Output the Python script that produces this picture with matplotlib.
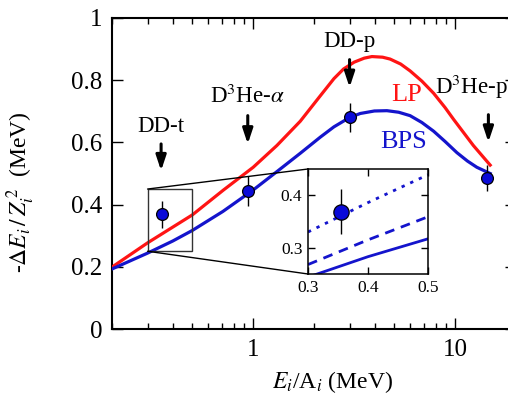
import matplotlib
matplotlib.use("Agg")
import matplotlib.pyplot as plt
from matplotlib.patches import Rectangle, ConnectionPatch
from matplotlib.ticker import FixedLocator, NullFormatter, LogLocator, FixedFormatter

plt.rcParams['font.family'] = ['Liberation Serif', 'DejaVu Serif']
plt.rcParams['mathtext.fontset'] = 'stix'

# ---- data ----
lp_x = [0.2, 0.3, 0.5, 0.713, 1.0, 1.31, 1.71, 2.15, 2.51, 2.80, 3.16, 3.55, 3.87, 4.37,
        4.76, 5.37, 5.98, 6.84, 7.82, 8.91, 9.82, 12.3, 14.9]
lp_y = [0.199, 0.277, 0.367, 0.447, 0.520, 0.590, 0.668, 0.750, 0.805, 0.836, 0.858, 0.871,
        0.876, 0.874, 0.868, 0.852, 0.830, 0.797, 0.758, 0.712, 0.674, 0.590, 0.527]

bps_x = [0.2, 0.3, 0.4, 0.5, 0.708, 1.0, 1.31, 1.71, 2.15, 2.51, 3.0, 3.39, 3.98, 4.59,
         5.25, 5.98, 6.84, 7.82, 8.91, 10.2, 11.5, 12.8, 14.9]
bps_y = [0.193, 0.244, 0.283, 0.317, 0.378, 0.447, 0.506, 0.565, 0.617, 0.650, 0.680, 0.693,
         0.701, 0.702, 0.697, 0.686, 0.664, 0.636, 0.603, 0.567, 0.540, 0.520, 0.500]

dot_x = [0.3, 0.4, 0.5]
dot_y = [0.330, 0.386, 0.439]
dash_x = [0.3, 0.4, 0.5]
dash_y = [0.268, 0.315, 0.359]

exp_labels = ["DD-t", r"D$^{3}$He-$\alpha$", "DD-p", r"D$^{3}$He-p"]
exp_x = [0.355, 0.94, 3.0, 14.4]
exp_y = [0.369, 0.444, 0.681, 0.485]
exp_err = [0.043, 0.047, 0.046, 0.042]

arrow_x = [0.35, 0.94, 3.0, 14.6]
arrow_top = [0.604, 0.695, 0.875, 0.698]
arrow_tip = [0.500, 0.586, 0.768, 0.592]

yticks = [0, 0.2, 0.4, 0.6, 0.8, 1]
ytick_labels = ["0", "0.2", "0.4", "0.6", "0.8", "1"]
xticks = [1, 10]
xtick_labels = ["1", "10"]

RED = '#ff1414'
BLUE = '#1414cc'
MBLUE = '#0a0ad8'

W, H = 508, 403
fig = plt.figure(figsize=(W/100, H/100), dpi=100)
ax = fig.add_axes([112/W, 74/H, 404/W, 311/H])

ax.plot(lp_x, lp_y, color=RED, lw=2.3, zorder=3)
ax.plot(bps_x, bps_y, color=BLUE, lw=2.3, zorder=3)
ax.errorbar(exp_x, exp_y, yerr=exp_err, fmt='o', ms=8.5, mfc=MBLUE, mec='k', mew=0.9,
            ecolor='k', elinewidth=1.0, capsize=0, zorder=5)

ax.set_xscale('log')
ax.set_xlim(0.2, 20)
ax.set_ylim(0, 1)
ax.xaxis.set_major_locator(FixedLocator(xticks))
ax.xaxis.set_major_formatter(FixedFormatter(xtick_labels))
ax.xaxis.set_minor_locator(LogLocator(base=10, subs=[2, 3, 4, 5, 6, 7, 8, 9]))
ax.xaxis.set_minor_formatter(NullFormatter())
ax.yaxis.set_major_locator(FixedLocator(yticks))
ax.yaxis.set_major_formatter(FixedFormatter(ytick_labels))
ax.tick_params(which='both', direction='in', top=True, right=True, labelsize=18, width=1.0)
ax.tick_params(which='major', length=8, pad=7)
ax.tick_params(which='minor', length=4.3)
for s in ax.spines.values():
    s.set_linewidth(1.5)

ax.set_xlabel(r"$E_{i}$/A$_{i}$ (MeV)", fontsize=17)
ax.set_ylabel(r"-$\mathit{\Delta E_{i}}\,/\,Z_{i}^{\,2}$  (MeV)", fontsize=17)
ax.xaxis.set_label_coords(0.545, -0.13)
ax.yaxis.set_label_coords(-0.185, 0.44)

# arrows and labels
for i in range(len(arrow_x)):
    ax.annotate('', xy=(arrow_x[i], arrow_tip[i]), xytext=(arrow_x[i], arrow_top[i]),
                arrowprops=dict(arrowstyle='-|>,head_length=0.9,head_width=0.3', color='k', lw=2.2),
                zorder=6)
ax.text(arrow_x[0], 0.650, exp_labels[0], ha='center', va='center', fontsize=16.5)
ax.text(arrow_x[1], 0.747, exp_labels[1], ha='center', va='center', fontsize=16.5)
ax.text(arrow_x[2], 0.923, exp_labels[2], ha='center', va='center', fontsize=16.5)
ax.text(7.9, 0.778, exp_labels[3], ha='left', va='center', fontsize=16.5)

ax.text(5.72, 0.752, "LP", color=RED, ha='center', va='center', fontsize=19)
ax.text(5.53, 0.601, "BPS", color=BLUE, ha='center', va='center', fontsize=19)

# zoom rectangle
ax.add_patch(Rectangle((0.3, 0.25), 0.2, 0.2, fill=False, ec='#333333', lw=1.0, zorder=4))

# inset
ins = fig.add_axes([308/W, (H-274)/H, 120/W, 105/H])
ins.plot(bps_x, bps_y, color=BLUE, lw=2.0)
ins.plot(dash_x, dash_y, color=BLUE, lw=2.0, ls=(0, (3.5, 2.5)))
ins.plot(dot_x, dot_y, color=BLUE, lw=2.0, ls=(0, (1.2, 2.2)))
ins.errorbar(exp_x, exp_y, yerr=exp_err, fmt='o', ms=11, mfc=MBLUE, mec='k', mew=0.9,
             ecolor='k', elinewidth=1.0, capsize=0, zorder=5)
ins.set_xlim(0.3, 0.5)
ins.set_ylim(0.25, 0.45)
ins.set_xticks([0.3, 0.4, 0.5])
ins.set_xticklabels(["0.3", "0.4", "0.5"])
ins.set_yticks([0.3, 0.4])
ins.set_yticklabels(["0.3", "0.4"])
ins.tick_params(direction='in', top=True, right=True, labelsize=12.5, length=5, width=1.0, pad=4)
for s in ins.spines.values():
    s.set_linewidth(1.1)

for yc in (0.45, 0.25):
    con = ConnectionPatch(xyA=(0.3, yc), coordsA=ax.transData,
                          xyB=(0.3, yc), coordsB=ins.transData,
                          color='k', lw=1.0)
    fig.add_artist(con)

fig.savefig("out.png", dpi=100)
